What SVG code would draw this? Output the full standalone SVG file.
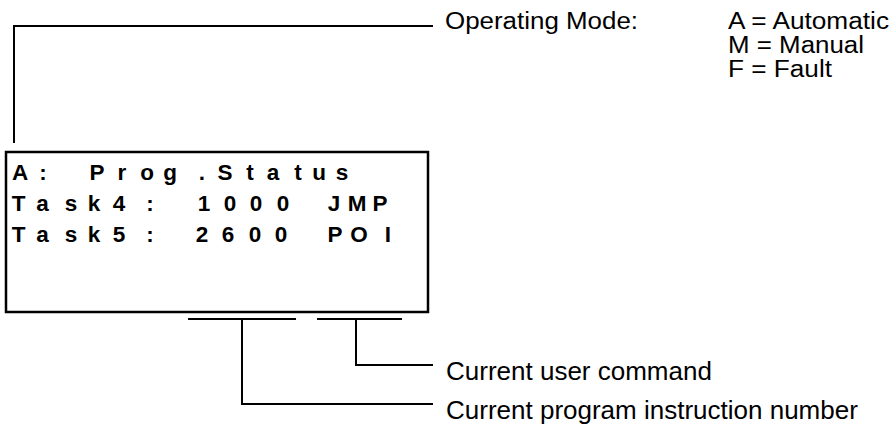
<svg xmlns="http://www.w3.org/2000/svg" width="896" height="425" viewBox="0 0 896 425">
<style>
.ln{fill:none;stroke:#000;stroke-width:2}
.box{fill:#fff;stroke:#000;stroke-width:2.5}
.lcd{font-family:"Liberation Sans",Arial,sans-serif;font-weight:bold;font-size:22.5px;text-anchor:middle;fill:#000}
.lbl{font-family:"Liberation Sans",Arial,sans-serif;font-size:26px;fill:#000}
.mode{font-family:"Liberation Sans",Arial,sans-serif;font-size:23.5px;fill:#000}
</style>
<rect width="896" height="425" fill="#fff"/>
<g id="connectors">
<polyline class="ln" points="14,143 14,26 433,26"/>
<line class="ln" x1="188" y1="319" x2="296" y2="319"/>
<line class="ln" x1="317" y1="319" x2="402" y2="319"/>
<polyline class="ln" points="242,319 242,404 433,404"/>
<polyline class="ln" points="356,319 356,365 433,365"/>
</g>
<g id="display">
<rect class="box" x="6" y="152" width="422" height="160"/>
<text class="lcd" x="20 43 97 122 147 170 202 225 250 273 298 319 342" y="180">A:Prog.Status</text>
<text class="lcd" x="18.5 42.5 71 94 119 150 204 230 256 283 334 357 380" y="211">Task4:1000JMP</text>
<text class="lcd" x="18.5 42.5 71 94 119 150 202 228 255 281 335 359 388" y="242">Task5:2600POI</text>
</g>
<g id="mode-label">
<text class="mode" x="445" y="29" textLength="193" lengthAdjust="spacingAndGlyphs">Operating Mode:</text>
<text class="mode" x="728" y="29" textLength="161" lengthAdjust="spacingAndGlyphs">A = Automatic</text>
<text class="mode" x="728" y="53" textLength="136" lengthAdjust="spacingAndGlyphs">M = Manual</text>
<text class="mode" x="728" y="77" textLength="104" lengthAdjust="spacingAndGlyphs">F = Fault</text>
</g>
<g id="command-label">
<text class="lbl" x="446" y="380">Current user command</text>
</g>
<g id="instruction-label">
<text class="lbl" x="446" y="419">Current program instruction number</text>
</g>
</svg>
